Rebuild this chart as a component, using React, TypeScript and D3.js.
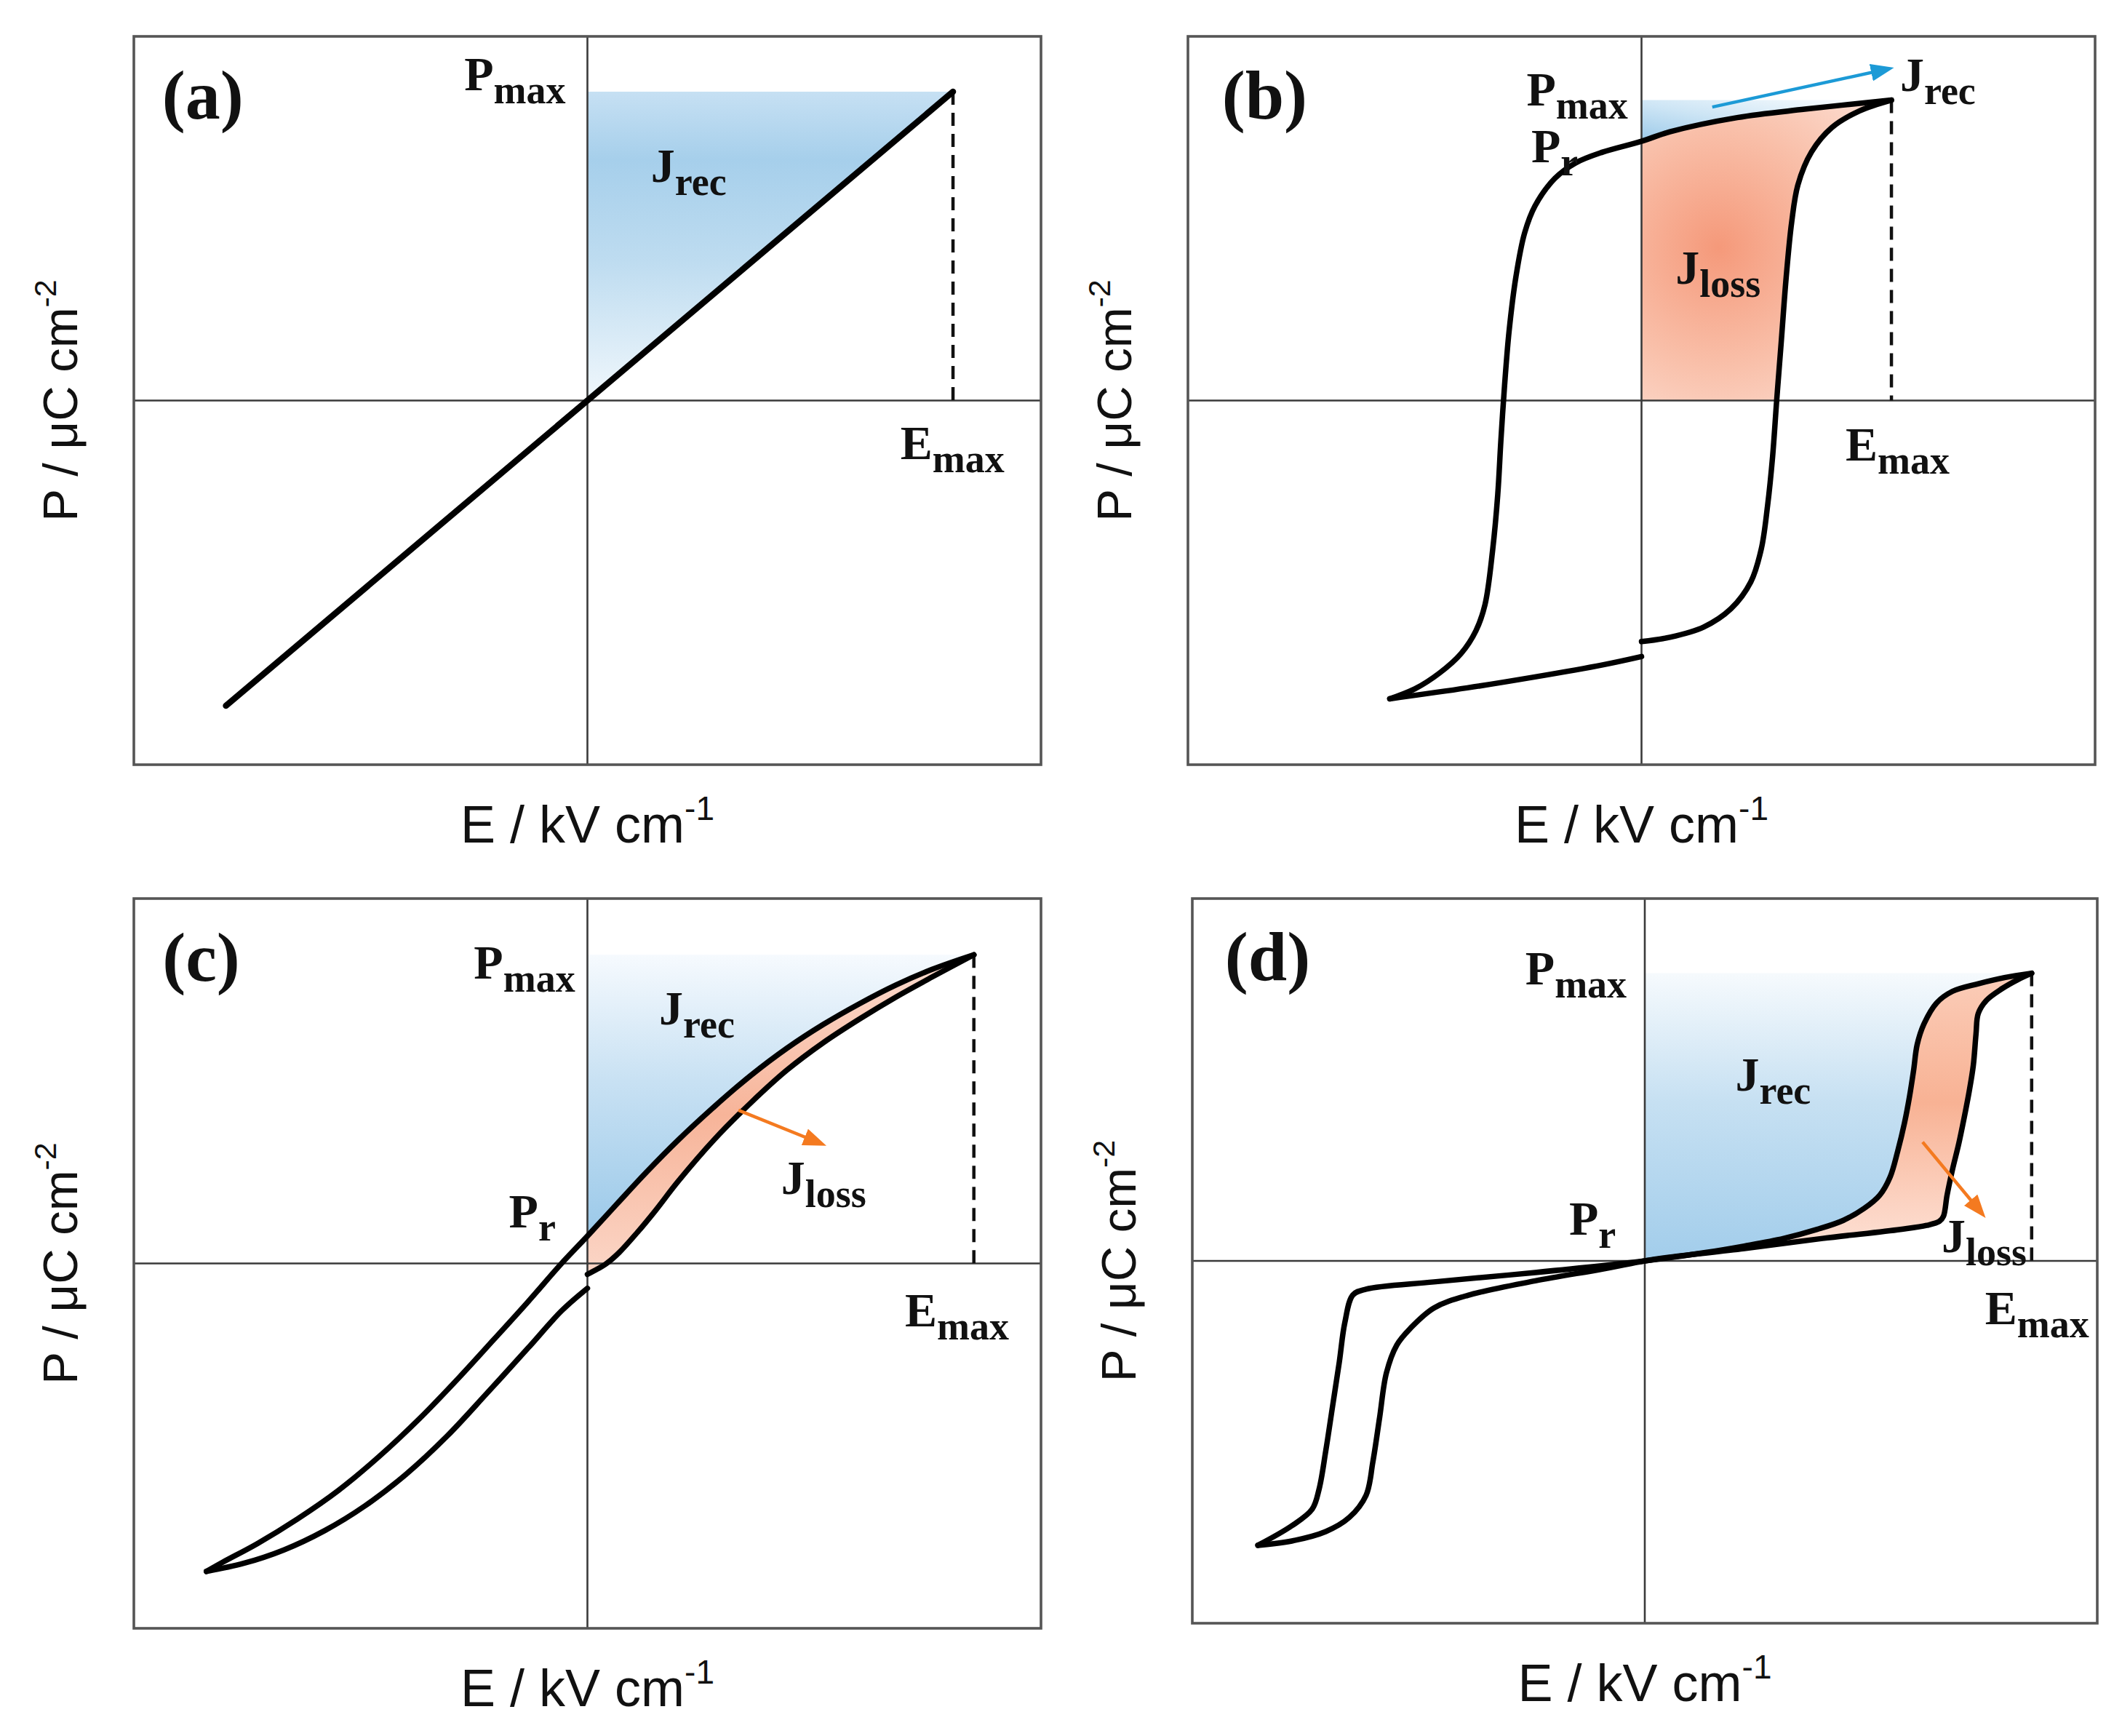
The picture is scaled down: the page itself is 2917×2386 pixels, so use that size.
import React from 'react';
import * as d3 from 'd3';

type Pt = [number, number];

// ---------------- DATA (E normalised to half frame width, P to half frame height) ----------------
const panelLetters = ['(a)', '(b)', '(c)', '(d)'];

// (a) linear dielectric
const aLine: Pt[] = [[-0.797, -0.838], [0, 0], [0.806, 0.848]];

// (b) ferroelectric loop
const bUpper: Pt[] = [
  [0.551, 0.825], [0.36, 0.8], [0.211, 0.777], [0.0625, 0.738], [0, 0.712], [-0.086, 0.682],
  [-0.146, 0.652], [-0.191, 0.61], [-0.235, 0.534], [-0.258, 0.459], [-0.277, 0.339],
  [-0.292, 0.19], [-0.302, 0.04], [-0.31, -0.109], [-0.317, -0.259], [-0.328, -0.408],
  [-0.345, -0.56], [-0.365, -0.632], [-0.398, -0.695], [-0.445, -0.748], [-0.5, -0.792],
  [-0.555, -0.819],
];
const bLowerLeft: Pt[] = [
  [-0.555, -0.819], [-0.384, -0.789], [-0.235, -0.759], [-0.086, -0.726], [0, -0.703],
];
const bLowerRight: Pt[] = [
  [0, -0.662], [0.0625, -0.65], [0.137, -0.622], [0.197, -0.572], [0.241, -0.498], [0.264, -0.408],
  [0.278, -0.288], [0.289, -0.154], [0.298, 0], [0.308, 0.16], [0.319, 0.339], [0.331, 0.489],
  [0.345, 0.593], [0.375, 0.683], [0.42, 0.75], [0.48, 0.795], [0.551, 0.825],
];

// (c) relaxor (slim loop)
const cUpper: Pt[] = [
  [0.852, 0.846], [0.76, 0.806], [0.68, 0.763], [0.6, 0.712], [0.52, 0.655], [0.44, 0.59],
  [0.36, 0.515], [0.28, 0.43], [0.2, 0.338], [0.13, 0.25], [0.065, 0.163], [0, 0.075],
  [-0.057, 0.0], [-0.131, -0.105], [-0.206, -0.208], [-0.281, -0.31], [-0.37, -0.425],
  [-0.46, -0.53], [-0.549, -0.622], [-0.639, -0.7], [-0.728, -0.768], [-0.803, -0.818],
  [-0.84, -0.844],
];
const cLowerLeft: Pt[] = [
  [-0.84, -0.844], [-0.758, -0.822], [-0.669, -0.785], [-0.579, -0.732], [-0.49, -0.664],
  [-0.4, -0.578], [-0.31, -0.474], [-0.221, -0.355], [-0.131, -0.232], [-0.057, -0.13], [0, -0.068],
];
const cLowerRight: Pt[] = [
  [0, -0.03], [0.015, -0.02], [0.04, -0.002], [0.07, 0.03], [0.11, 0.085], [0.15, 0.145],
  [0.2, 0.225], [0.28, 0.34], [0.36, 0.44], [0.44, 0.53], [0.52, 0.605], [0.6, 0.67],
  [0.68, 0.73], [0.76, 0.785], [0.852, 0.846],
];

// (d) antiferroelectric double loop
const dDown: Pt[] = [
  [0.855, 0.794], [0.795, 0.782], [0.737, 0.765], [0.68, 0.744], [0.645, 0.712], [0.617, 0.654],
  [0.602, 0.597], [0.594, 0.525], [0.585, 0.453], [0.574, 0.381], [0.559, 0.303], [0.542, 0.231],
  [0.519, 0.181], [0.485, 0.145], [0.439, 0.112], [0.381, 0.087], [0.307, 0.062], [0.22, 0.041],
  [0.134, 0.023], [0, 0], [-0.242, -0.032], [-0.466, -0.058], [-0.616, -0.078], [-0.645, -0.094],
  [-0.663, -0.171], [-0.675, -0.278], [-0.69, -0.401], [-0.705, -0.524], [-0.72, -0.631],
  [-0.735, -0.685], [-0.78, -0.731], [-0.855, -0.785],
];
const dUp: Pt[] = [
  [-0.855, -0.785], [-0.78, -0.773], [-0.705, -0.747], [-0.653, -0.708], [-0.616, -0.647],
  [-0.601, -0.555], [-0.586, -0.432], [-0.571, -0.309], [-0.548, -0.232], [-0.518, -0.186],
  [-0.466, -0.13], [-0.391, -0.095], [-0.242, -0.055], [-0.092, -0.022], [0, 0], [0.048, 0.009],
  [0.22, 0.034], [0.393, 0.062], [0.565, 0.087], [0.623, 0.098], [0.651, 0.109], [0.66, 0.123],
  [0.668, 0.181], [0.68, 0.252], [0.694, 0.324], [0.706, 0.396], [0.717, 0.468], [0.726, 0.539],
  [0.732, 0.626], [0.737, 0.683], [0.755, 0.719], [0.789, 0.751], [0.824, 0.776], [0.855, 0.794],
];

// arrows (start, end)
const bArrow: Pt[] = [[0.156, 0.806], [0.541, 0.91]];
const cArrow: Pt[] = [[0.333, 0.42], [0.512, 0.33]];
const dArrow: Pt[] = [[0.614, 0.328], [0.743, 0.134]];

// centre of the J_loss glow in (b)
const bGlow: Pt = [0.17, 0.42];

// text labels: main letter + subscript at (E, P)
type Lab = { main: string; sub: string; at: Pt; anchor: 'start' | 'end' };
const aLabels: Lab[] = [
  { main: 'P', sub: 'max', at: [-0.048, 0.852], anchor: 'end' },
  { main: 'J', sub: 'rec', at: [0.14, 0.6], anchor: 'start' },
  { main: 'E', sub: 'max', at: [0.69, -0.16], anchor: 'start' },
];
const bLabels: Lab[] = [
  { main: 'P', sub: 'max', at: [-0.03, 0.81], anchor: 'end' },
  { main: 'P', sub: 'r', at: [-0.14, 0.655], anchor: 'end' },
  { main: 'J', sub: 'rec', at: [0.57, 0.85], anchor: 'start' },
  { main: 'J', sub: 'loss', at: [0.075, 0.32], anchor: 'start' },
  { main: 'E', sub: 'max', at: [0.45, -0.165], anchor: 'start' },
];
const cLabels: Lab[] = [
  { main: 'P', sub: 'max', at: [-0.027, 0.78], anchor: 'end' },
  { main: 'J', sub: 'rec', at: [0.158, 0.655], anchor: 'start' },
  { main: 'P', sub: 'r', at: [-0.07, 0.098], anchor: 'end' },
  { main: 'J', sub: 'loss', at: [0.427, 0.19], anchor: 'start' },
  { main: 'E', sub: 'max', at: [0.7, -0.173], anchor: 'start' },
];
const dLabels: Lab[] = [
  { main: 'P', sub: 'max', at: [-0.04, 0.764], anchor: 'end' },
  { main: 'J', sub: 'rec', at: [0.2, 0.47], anchor: 'start' },
  { main: 'P', sub: 'r', at: [-0.064, 0.073], anchor: 'end' },
  { main: 'J', sub: 'loss', at: [0.656, 0.024], anchor: 'start' },
  { main: 'E', sub: 'max', at: [0.752, -0.174], anchor: 'start' },
];
const letterPos: Pt[] = [[-0.938, 0.775], [-0.925, 0.775], [-0.937, 0.775], [-0.928, 0.775]];

const xTitle = ['E / kV cm', '-1'];
const yTitle = ['P / \u03bcC cm', '-2'];

// ---------------- LAYOUT ----------------
const W = 2917;
const H = 2386;
const frames = [
  { x: 184, y: 50, w: 1247, h: 1001 },
  { x: 1633, y: 50, w: 1247, h: 1001 },
  { x: 184, y: 1235, w: 1247, h: 1003 },
  { x: 1639, y: 1235, w: 1244, h: 996 },
];
const SERIF = '"Liberation Serif", "Times New Roman", serif';
const SANS = '"Liberation Sans", Arial, sans-serif';
const CURVE = '#000';

type Seg = { pts: Pt[]; smooth: boolean };

function posPart(arr: Pt[]): Pt[] {
  const i = arr.findIndex((p) => p[0] === 0);
  return arr.slice(0, i + 1);
}
function fromZero(arr: Pt[]): Pt[] {
  const i = arr.findIndex((p) => p[0] === 0);
  return arr.slice(i);
}

function Panel({ idx }: { idx: number }) {
  const f = frames[idx];
  const x = d3.scaleLinear().domain([-1, 1]).range([f.x, f.x + f.w]);
  const y = d3.scaleLinear().domain([-1, 1]).range([f.y + f.h, f.y]);
  const smooth = d3.line<Pt>().x((d) => x(d[0])).y((d) => y(d[1])).curve(d3.curveCatmullRom.alpha(0.5));
  const straight = d3.line<Pt>().x((d) => x(d[0])).y((d) => y(d[1]));
  const build = (segs: Seg[]) => {
    let s = '';
    segs.forEach((g, i) => {
      let p = (g.smooth ? smooth(g.pts) : straight(g.pts)) || '';
      if (i > 0) p = 'L' + p.slice(1);
      s += p;
    });
    return s + 'Z';
  };
  const id = 'p' + idx;

  let curves: Pt[][] = [];
  let tip: Pt = [0, 0];
  let blue = '';
  let orange = '';
  let arrow: Pt[] | null = null;
  let arrowColor = '#f47a20';
  let labels: Lab[] = [];
  let clipOrange = false;

  if (idx === 0) {
    curves = [aLine];
    tip = aLine[aLine.length - 1];
    blue = build([{ pts: [[0, 0], [0, tip[1]], tip], smooth: false }, { pts: [tip, [0, 0]], smooth: false }]);
    labels = aLabels;
  } else if (idx === 1) {
    curves = [bUpper, bLowerLeft, bLowerRight];
    tip = bUpper[0];
    const up = posPart(bUpper);
    const pr = up[up.length - 1];
    blue = build([{ pts: [pr, [0, tip[1]], tip], smooth: false }, { pts: up, smooth: true }]);
    orange = build([
      { pts: up, smooth: true },
      { pts: [pr, bLowerRight[0]], smooth: false },
      { pts: bLowerRight, smooth: true },
    ]);
    clipOrange = true;
    arrow = bArrow;
    arrowColor = '#1c9ad6';
    labels = bLabels;
  } else if (idx === 2) {
    curves = [cUpper, cLowerLeft, cLowerRight];
    tip = cUpper[0];
    const up = posPart(cUpper);
    const pr = up[up.length - 1];
    blue = build([{ pts: [pr, [0, tip[1]], tip], smooth: false }, { pts: up, smooth: true }]);
    orange = build([
      { pts: up, smooth: true },
      { pts: [pr, cLowerRight[0]], smooth: false },
      { pts: cLowerRight, smooth: true },
    ]);
    arrow = cArrow;
    labels = cLabels;
  } else {
    curves = [dDown, dUp];
    tip = dDown[0];
    const down = posPart(dDown);
    blue = build([{ pts: [[0, 0], [0, tip[1]], tip], smooth: false }, { pts: down, smooth: true }]);
    orange = build([{ pts: fromZero(dUp), smooth: true }, { pts: down, smooth: true }]);
    arrow = dArrow;
    labels = dLabels;
  }

  const blueStops: Record<number, [number, string][]> = {
    0: [[0, '#c6e0f3'], [0.22, '#a6cfeb'], [0.55, '#bedcf0'], [1, '#f0f7fc']],
    1: [[0, '#9ccae9'], [0.45, '#cde5f5'], [1, '#ffffff']],
    2: [[0, '#f6fafe'], [0.45, '#c8e1f3'], [1, '#9bc9e9']],
    3: [[0, '#f6fafd'], [0.45, '#c6e0f2'], [1, '#a2cdeb']],
  };
  const blueDir: Record<number, [number, number, number, number]> = {
    0: [0, 0, 0, 1],
    1: [0, 1, 1, 0],
    2: [0, 0, 0, 1],
    3: [0, 0, 0, 1],
  };
  const orangeStops: Record<number, [number, string][]> = {
    1: [[0, '#f5997a'], [0.5, '#f9c0aa'], [1, '#fde7de']],
    2: [[0, '#fcdccf'], [0.5, '#f7b499'], [1, '#fbd6c7']],
    3: [[0, '#fbcdb9'], [0.45, '#f8b294'], [0.8, '#fcd3c2'], [1, '#fde4d9']],
  };
  const bd = blueDir[idx];

  const mainSize = 66;
  const subSize = 54;

  return (
    <g>
      <defs>
        <linearGradient id={id + 'blue'} x1={bd[0]} y1={bd[1]} x2={bd[2]} y2={bd[3]}>
          {blueStops[idx].map(([o, c], k) => (
            <stop key={k} offset={o} stopColor={c} />
          ))}
        </linearGradient>
        {idx === 1 ? (
          <radialGradient id={id + 'orange'} gradientUnits="userSpaceOnUse" cx={x(bGlow[0])}
            cy={y(bGlow[1])} r={330}>
            {orangeStops[1].map(([o, c], k) => (
              <stop key={k} offset={o} stopColor={c} />
            ))}
          </radialGradient>
        ) : idx > 1 ? (
          <linearGradient id={id + 'orange'} x1={0} y1={0} x2={0} y2={1}>
            {orangeStops[idx].map(([o, c], k) => (
              <stop key={k} offset={o} stopColor={c} />
            ))}
          </linearGradient>
        ) : null}
        <clipPath id={id + 'clipQ1'}>
          <rect x={x(-1)} y={f.y} width={f.w} height={y(0) - f.y} />
        </clipPath>
        <marker id={id + 'arrow'} markerUnits="userSpaceOnUse" markerWidth={32} markerHeight={24}
          refX={22} refY={12} orient="auto">
          <path d="M0,0 L32,12 L0,24 Z" fill={arrowColor} />
        </marker>
      </defs>

      {orange && (
        <path d={orange} fill={`url(#${id}orange)`} stroke="none"
          clipPath={clipOrange ? `url(#${id}clipQ1)` : undefined} />
      )}
      <path d={blue} fill={`url(#${id}blue)`} stroke="none" />

      <line x1={x(0)} x2={x(0)} y1={f.y} y2={f.y + f.h} stroke="#3a3a3a" strokeWidth={2.6} />
      <line x1={f.x} x2={f.x + f.w} y1={y(0)} y2={y(0)} stroke="#3a3a3a" strokeWidth={2.6} />
      <rect x={f.x} y={f.y} width={f.w} height={f.h} fill="none" stroke="#555" strokeWidth={3.6} />

      <line x1={x(tip[0])} x2={x(tip[0])} y1={y(tip[1])} y2={y(0)} stroke="#111" strokeWidth={4.5}
        strokeDasharray="18 11" />

      {curves.map((c, k) => (
        <path key={k} d={smooth(c) || ''} fill="none" stroke={CURVE} strokeWidth={idx === 0 ? 8.5 : 7.5}
          strokeLinejoin="round" strokeLinecap="round" />
      ))}

      {arrow && (
        <line x1={x(arrow[0][0])} y1={y(arrow[0][1])} x2={x(arrow[1][0])} y2={y(arrow[1][1])}
          stroke={arrowColor} strokeWidth={4.5} markerEnd={`url(#${id}arrow)`} />
      )}

      {labels.map((l, k) => (
        <text key={k} x={x(l.at[0])} y={y(l.at[1])} textAnchor={l.anchor} fontFamily={SERIF}
          fontWeight="bold" fontSize={mainSize} fill="#111">
          {l.main}
          <tspan fontSize={subSize} dy={18}>{l.sub}</tspan>
        </text>
      ))}

      <text x={x(letterPos[idx][0])} y={y(letterPos[idx][1])} fontFamily={SERIF} fontWeight="bold"
        fontSize={96} fill="#111">
        {panelLetters[idx]}
      </text>

      <text x={x(0)} y={f.y + f.h + 107} textAnchor="middle" fontFamily={SANS} fontSize={72} fill="#111">
        {xTitle[0]}
        <tspan fontSize={46} dy={-31}>{xTitle[1]}</tspan>
      </text>
      <text transform={`translate(${f.x - 78},${y(0)}) rotate(-90)`} textAnchor="middle" fontFamily={SANS}
        fontSize={67} fill="#111">
        {yTitle[0]}
        <tspan fontSize={43} dy={-29}>{yTitle[1]}</tspan>
      </text>
    </g>
  );
}

export default function App() {
  return (
    <svg width={W} height={H} viewBox={`0 0 ${W} ${H}`}
      style={{ position: 'absolute', left: 0, top: 0, background: '#fff' }}>
      <rect x={0} y={0} width={W} height={H} fill="#fff" />
      {[0, 1, 2, 3].map((i) => (
        <Panel key={i} idx={i} />
      ))}
    </svg>
  );
}
